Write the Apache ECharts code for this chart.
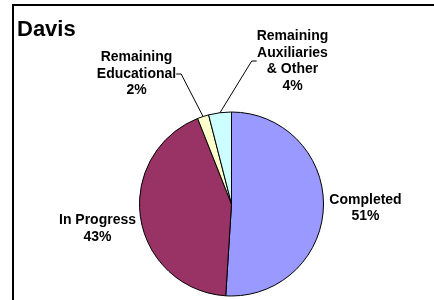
<!DOCTYPE html>
<html>
<head>
<meta charset="utf-8">
<style>
  html, body { margin: 0; padding: 0; background: #fff; }
  #chart { width: 434px; height: 300px; }
</style>
<script src="https://cdn.jsdelivr.net/npm/echarts@6/dist/echarts.min.js"></script>
</head>
<body>
<div id="chart"></div>
<script>
'use strict';

// data
var names = ['Completed', 'In Progress', 'Remaining\nEducational', 'Remaining\nAuxiliaries\n& Other'];
var values = [51, 43, 2, 4];
var colors = ['#9999FF', '#993366', '#FFFFCC', '#CCFFFF'];
var showLine = [false, false, true, true];

// where each label sits (centre of the text block)
var labelPos = [[365.5, 208], [97.5, 228.5], [136.5, 74], [292.5, 61]];

var pieData = [];
for (var i = 0; i < names.length; i++) {
    pieData.push({
        name: names[i],
        value: values[i],
        itemStyle: { color: colors[i] },
        labelLine: { show: showLine[i] }
    });
}

var options = {
    animation: false,
    title: {
        text: 'Davis',
        left: 17,
        top: 19,
        padding: 0,
        textStyle: {
            fontFamily: 'Liberation Sans',
            fontSize: 22,
            fontWeight: 'bold',
            color: '#000'
        }
    },
    graphic: [{
        type: 'rect',
        shape: { x: 13, y: 5, width: 600, height: 600 },
        style: { fill: 'none', stroke: '#000', lineWidth: 2 },
        silent: true
    }],
    series: [{
        type: 'pie',
        center: [231.5, 204],
        radius: 92,
        startAngle: 90,
        clockwise: true,
        avoidLabelOverlap: false,
        itemStyle: { borderColor: '#000', borderWidth: 1 },
        label: {
            show: true,
            position: 'outside',
            formatter: '{b}\n{d}%',
            fontFamily: 'Liberation Sans',
            fontSize: 14,
            fontWeight: 'bold',
            lineHeight: 16.5,
            color: '#000',
            align: 'center'
        },
        labelLine: {
            length: 10,
            length2: 5,
            lineStyle: { color: '#000', width: 1 }
        },
        labelLayout: function (params) {
            var p = labelPos[params.dataIndex];
            return {
                x: p[0],
                y: p[1],
                align: 'center',
                verticalAlign: 'middle'
            };
        },
        emphasis: { disabled: true },
        data: pieData
    }]
};

var myChart = echarts.init(document.getElementById('chart'));
myChart.setOption(options);
</script>
</body>
</html>
